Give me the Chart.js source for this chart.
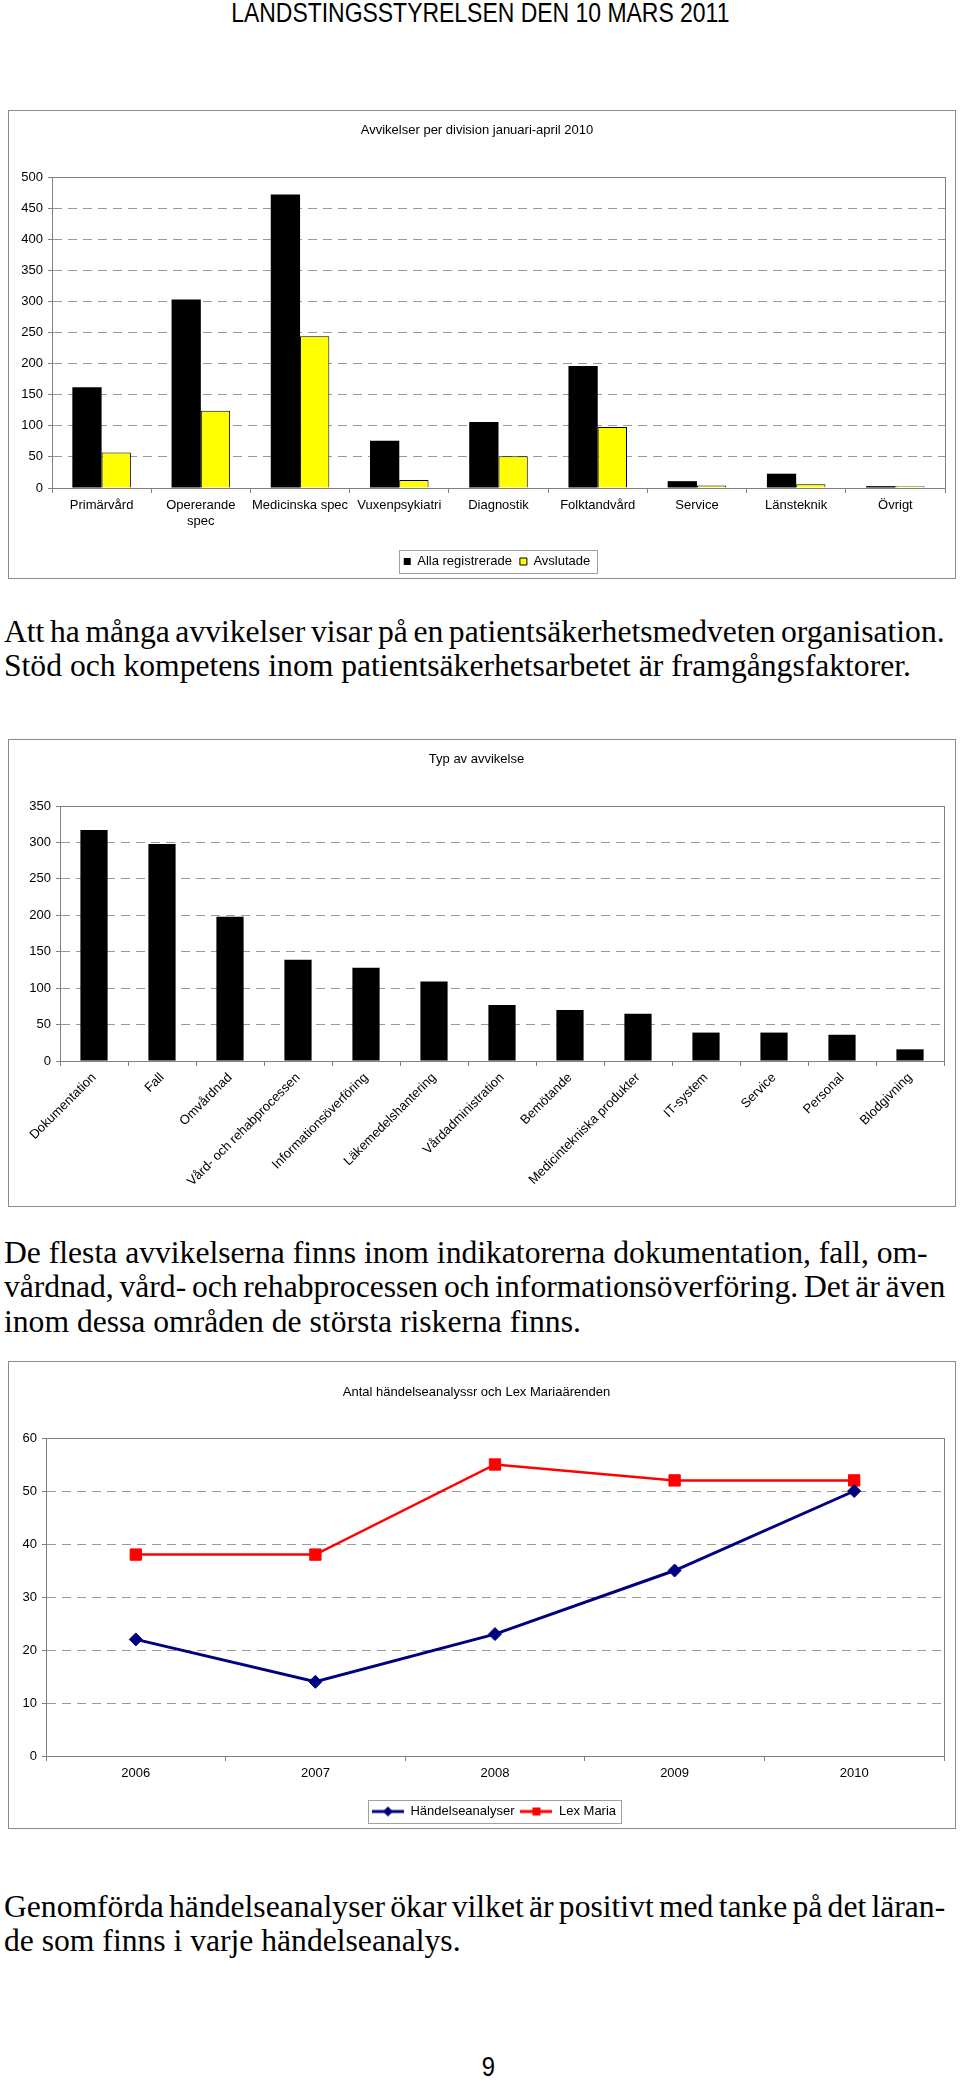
<!DOCTYPE html>
<html>
<head>
<meta charset="utf-8">
<script src="https://cdn.jsdelivr.net/npm/chart.js@4/dist/chart.umd.min.js"></script>
<style>
  body { margin: 0; background: #fff; width: 960px; height: 2083px; position: relative; overflow: hidden; }
  .hdr { position: absolute; left: 0; width: 960px; text-align: center; font-family: "Liberation Sans", Arial, sans-serif; font-size: 27px; line-height: 30px; white-space: nowrap; transform: scaleX(0.85); transform-origin: 482px 0; }
  .box { position: absolute; left: 8px; width: 946px; border: 1px solid #8c8c8c; }
  .txt { position: absolute; left: 4px; font-family: "Liberation Serif", "Times New Roman", serif; font-size: 32px; line-height: 34.4px; transform-origin: 0 0; color: #000; }
  .ln { white-space: nowrap; width: max-content; }
</style>
</head>
<body>
<div class="hdr" style="top:-2px">LANDSTINGSSTYRELSEN DEN 10 MARS 2011</div>

<div class="box" style="top:110px;height:467px"><canvas id="divChart"></canvas></div>

<div class="txt" style="top:614px">
  <div class="ln full">Att ha många avvikelser visar på en patientsäkerhetsmedveten organisation.</div>
  <div class="ln" id="refLine">Stöd och kompetens inom patientsäkerhetsarbetet är framgångsfaktorer.</div>
</div>

<div class="box" style="top:739px;height:466px"><canvas id="typChart"></canvas></div>

<div class="txt" style="top:1235px">
  <div class="ln">De flesta avvikelserna finns inom indikatorerna dokumentation, fall, om-</div>
  <div class="ln full">vårdnad, vård- och rehabprocessen och informationsöverföring. Det är även</div>
  <div class="ln">inom dessa områden de största riskerna finns.</div>
</div>

<div class="box" style="top:1361px;height:466px"><canvas id="lexChart"></canvas></div>

<div class="txt" style="top:1889px">
  <div class="ln full">Genomförda händelseanalyser ökar vilket är positivt med tanke på det läran-</div>
  <div class="ln">de som finns i varje händelseanalys.</div>
</div>

<div class="hdr" style="top:2052px;font-size:28px;transform-origin:489px 0;left:7px">9</div>

<script>
// Chart 1: Avvikelser per division januari-april 2010
const divisions = ['Primärvård', ['Opererande', 'spec'], 'Medicinska spec', 'Vuxenpsykiatri', 'Diagnostik', 'Folktandvård', 'Service', 'Länsteknik', 'Övrigt'];
const allaRegistrerade = [162, 303, 472, 76, 106, 196, 11, 23, 3];
const avslutade = [57, 124, 244, 13, 51, 98, 4, 6, 3];

// Chart 2: Typ av avvikelse
const typer = ['Dokumentation', 'Fall', 'Omvårdnad', 'Vård- och rehabprocessen', 'Informationsöverföring', 'Läkemedelshantering', 'Vårdadministration', 'Bemötande', 'Medicintekniska produkter', 'IT-system', 'Service', 'Personal', 'Blodgivning'];
const typAntal = [317, 298, 198, 139, 128, 109, 77, 70, 65, 39, 39, 36, 16];

// Chart 3: Antal händelseanalyser och Lex Maria-ärenden
const years = ['2006', '2007', '2008', '2009', '2010'];
const handelseanalyser = [22, 14, 23, 35, 50];
const lexMaria = [38, 38, 55, 52, 52];

Chart.defaults.font.family = '"Liberation Sans", Arial, sans-serif';
Chart.defaults.font.size = 13;
Chart.defaults.color = '#000';
Chart.defaults.animation = false;

const axisGray = '#808080';
const gridGray = '#9a9a9a';

// gray frame around the plot area
const plotFrame = {
    id: 'plotFrame',
    beforeDatasetsDraw(chart) {
        const { ctx, chartArea: a } = chart;
        ctx.save();
        ctx.strokeStyle = axisGray;
        ctx.lineWidth = 1;
        ctx.strokeRect(Math.round(a.left) + 0.5, Math.round(a.top) + 0.5, Math.round(a.right - a.left), Math.round(a.bottom - a.top));
        ctx.restore();
    }
};

// legend sits a bit right of centre in the original, and has a thin box round it
const legendFrame = {
    id: 'legendFrame',
    afterLayout(chart, args, opts) {
        if (chart.legend && opts.shift) {
            chart.legend.left += opts.shift;
            chart.legend.right += opts.shift;
        }
    },
    afterDraw(chart, args, opts) {
        const boxes = chart.legend && chart.legend.legendHitBoxes;
        if (!boxes || !boxes.length) return;
        const ctx = chart.ctx;
        const left = Math.min(...boxes.map(b => b.left)) - opts.before;
        const right = Math.max(...boxes.map(b => b.left + b.width)) + opts.after;
        const mid = boxes[0].top + boxes[0].height / 2;
        ctx.save();
        ctx.strokeStyle = '#a0a0a0';
        ctx.lineWidth = 1;
        ctx.strokeRect(Math.round(left) + 0.5, Math.round(mid - 11.5) + 0.5, Math.round(right - left), 23);
        ctx.restore();
    }
};

function yScale(max, step, width) {
    return {
        min: 0,
        max: max,
        ticks: { stepSize: step, padding: 5 },
        grid: { color: gridGray, tickColor: axisGray, tickLength: 4 },
        border: { color: axisGray, dash: [9, 6] },
        afterFit: s => { s.width = width; }
    };
}

function titleOpts(text, top, bottom) {
    return {
        display: true,
        text: text,
        font: { size: 13, weight: 'normal' },
        color: '#000',
        padding: { top: top, bottom: bottom }
    };
}

new Chart(document.getElementById('divChart'), {
    type: 'bar',
    data: {
        labels: divisions,
        datasets: [
            { label: 'Alla registrerade', data: allaRegistrerade, backgroundColor: '#000', borderColor: '#000', borderWidth: 0 },
            { label: 'Avslutade', data: avslutade, backgroundColor: '#ffff00', borderColor: '#000', borderWidth: 1 }
        ]
    },
    options: {
        responsive: true,
        maintainAspectRatio: false,
        categoryPercentage: 0.59,
        barPercentage: 1.0,
        layout: { padding: { top: 0, right: 10, bottom: 0, left: 0 } },
        scales: {
            x: {
                grid: { drawOnChartArea: false, color: axisGray, tickLength: 5 },
                border: { color: axisGray },
                ticks: { padding: 5, maxRotation: 0, autoSkip: false },
                afterFit: s => { s.height = 59; }
            },
            y: yScale(500, 50, 43)
        },
        plugins: {
            title: titleOpts('Avvikelser per division januari-april 2010', 11.2, 39.2),
            legend: {
                position: 'bottom',
                labels: { boxWidth: 7, boxHeight: 7, padding: 8, color: '#000', font: { size: 13 } }
            },
            legendFrame: { shift: 20, before: 5, after: 6 },
            tooltip: { enabled: false }
        }
    },
    plugins: [plotFrame, legendFrame]
});

new Chart(document.getElementById('typChart'), {
    type: 'bar',
    data: {
        labels: typer,
        datasets: [
            { label: 'Antal', data: typAntal, backgroundColor: '#000', borderWidth: 0 }
        ]
    },
    options: {
        responsive: true,
        maintainAspectRatio: false,
        categoryPercentage: 0.4,
        barPercentage: 1.0,
        layout: { padding: { top: 0, right: 11, bottom: 0, left: 0 } },
        scales: {
            x: {
                grid: { drawOnChartArea: false, color: axisGray, tickLength: 5 },
                border: { color: axisGray },
                ticks: { padding: 4, minRotation: 45, maxRotation: 45, autoSkip: false },
                afterFit: s => { s.height = 145; }
            },
            y: yScale(350, 50, 51)
        },
        plugins: {
            title: titleOpts('Typ av avvikelse', 11.2, 39.2),
            legend: { display: false },
            tooltip: { enabled: false }
        }
    },
    plugins: [plotFrame]
});

// legend sample: short line with the marker in the middle
function legendSample(color, shape) {
    const c = document.createElement('canvas');
    c.width = 32;
    c.height = 14;
    const g = c.getContext('2d');
    g.strokeStyle = color;
    g.fillStyle = color;
    g.lineWidth = 3;
    g.beginPath();
    g.moveTo(0, 7);
    g.lineTo(32, 7);
    g.stroke();
    g.beginPath();
    if (shape === 'diamond') {
        g.moveTo(16, 2); g.lineTo(21, 7); g.lineTo(16, 12); g.lineTo(11, 7);
    } else {
        g.rect(12, 3, 8, 8);
    }
    g.fill();
    return c;
}
const samples = [legendSample('#000080', 'diamond'), legendSample('#ff0000', 'square')];

new Chart(document.getElementById('lexChart'), {
    type: 'line',
    data: {
        labels: years,
        datasets: [
            { label: 'Händelseanalyser', data: handelseanalyser, borderColor: '#000080', backgroundColor: '#000080', borderWidth: 3, pointStyle: 'rectRot', pointRadius: 6.5, pointBorderWidth: 1 },
            { label: 'Lex Maria', data: lexMaria, borderColor: '#ff0000', backgroundColor: '#ff0000', borderWidth: 2.5, pointStyle: 'rect', pointRadius: 8, pointBorderWidth: 1 }
        ]
    },
    options: {
        responsive: true,
        maintainAspectRatio: false,
        layout: { padding: { top: 0, right: 11, bottom: 0, left: 0 } },
        scales: {
            x: {
                offset: true,
                grid: { offset: true, drawOnChartArea: false, color: axisGray, tickLength: 5 },
                border: { color: axisGray },
                ticks: { padding: 4.2, maxRotation: 0 },
                afterFit: s => { s.height = 43; }
            },
            y: yScale(60, 10, 37)
        },
        plugins: {
            title: titleOpts('Antal händelseanalyssr och Lex Mariaärenden', 22.2, 38.2),
            legend: {
                position: 'bottom',
                labels: {
                    usePointStyle: true,
                    pointStyleWidth: 32,
                    padding: 6,
                    color: '#000',
                    font: { size: 13 },
                    generateLabels: chart => Chart.defaults.plugins.legend.labels.generateLabels(chart)
                        .map((item, i) => Object.assign(item, { pointStyle: samples[i] }))
                }
            },
            legendFrame: { shift: 17.5, before: 4, after: 5 },
            tooltip: { enabled: false }
        }
    },
    plugins: [plotFrame, legendFrame]
});

// body text: squeeze slightly to the original's width, spread the full lines to the margin
(function fitText() {
    const s = 907 / document.getElementById('refLine').offsetWidth;
    document.querySelectorAll('.txt').forEach(el => { el.style.transform = 'scaleX(' + s + ')'; });
    document.querySelectorAll('.full').forEach(el => {
        const gaps = el.textContent.split(' ').length - 1;
        el.style.wordSpacing = ((941 / s - el.offsetWidth) / gaps) + 'px';
    });
})();
</script>
</body>
</html>
